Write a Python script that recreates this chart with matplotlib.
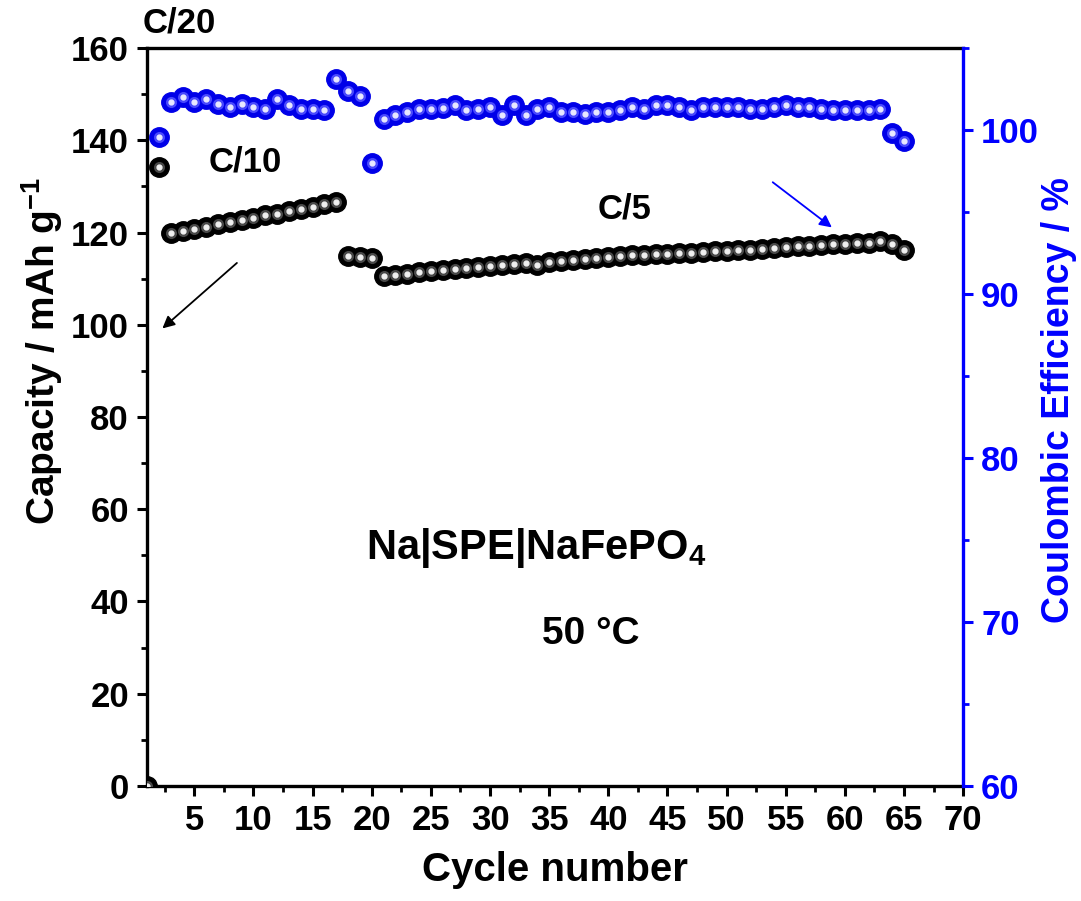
import numpy as np
import matplotlib
matplotlib.use("Agg")
import matplotlib.pyplot as plt
from matplotlib.ticker import MultipleLocator, FixedLocator

plt.rcParams['font.family'] = ['Liberation Sans', 'DejaVu Sans']
plt.rcParams['font.weight'] = 'bold'
plt.rcParams['mathtext.fontset'] = 'custom'
plt.rcParams['mathtext.rm'] = 'Liberation Sans:bold'
plt.rcParams['mathtext.default'] = 'rm'

# Cycle data: specific capacity (mAh/g) and coulombic efficiency (%)
cycles = list(range(1, 66))
capacity = [
    0.0, 134.2,
    # C/10
    120.0, 120.4, 120.8, 121.3, 121.8, 122.3, 122.8, 123.2, 123.7, 124.1,
    124.6, 125.1, 125.6, 126.1, 126.6,
    # C/20 again
    114.8, 114.6, 114.5,
    # C/5
    110.5, 110.8, 111.1, 111.4, 111.6, 111.9, 112.1, 112.3, 112.5, 112.7,
    112.9, 113.1, 113.3, 113.0, 113.6, 113.8, 114.0, 114.2, 114.4, 114.6,
    114.8, 115.1, 115.2, 115.3, 115.4, 115.5, 115.6, 115.7, 115.9, 116.0,
    116.2, 116.3, 116.5, 116.7, 116.8, 117.0, 117.1, 117.3, 117.4, 117.5,
    117.7, 117.8, 118.2, 117.5, 116.3,
]
efficiency = [
    np.nan, 99.6,
    101.7, 102.0, 101.7, 101.9, 101.6, 101.4, 101.6, 101.4, 101.3, 101.9,
    101.5, 101.3, 101.3, 101.2, 103.1,
    102.4, 102.1, 98.0,
    100.7, 100.9, 101.1, 101.3, 101.3, 101.35, 101.5, 101.2, 101.3, 101.4,
    100.9, 101.5, 100.9, 101.3, 101.4, 101.1, 101.1, 101.0, 101.1, 101.1,
    101.2, 101.4, 101.3, 101.5, 101.5, 101.4, 101.2, 101.4, 101.4, 101.4,
    101.4, 101.3, 101.3, 101.4, 101.5, 101.4, 101.4, 101.3, 101.2, 101.2,
    101.2, 101.2, 101.3, 99.8, 99.3,
]

blue = '#0000ff'

fig = plt.figure(figsize=(10.81, 9.01), dpi=100)
ax = fig.add_axes([0.136, 0.1277, 0.755, 0.819])
ax2 = ax.twinx()


def spheres(axis, x, y, base, mid, light):
    # shaded ball markers: dark body, lighter core, small highlight
    axis.plot(x, y, 'o', ms=14, color=base, mec=base, zorder=3)
    axis.plot(x, y, 'o', ms=7, color=mid, mec=mid, alpha=0.85, zorder=4)
    axis.plot(x, y, 'o', ms=3.5, color=light, mec=light, zorder=5)


spheres(ax, cycles, capacity, 'black', '#505050', '#f0f0f0')
spheres(ax2, cycles, efficiency, '#0000e8', '#5050ff', '#e8e8ff')

# axes limits and ticks
ax.set_xlim(1, 70)
ax.set_ylim(0, 160)
ax2.set_ylim(60, 105)
ax.xaxis.set_major_locator(FixedLocator(np.arange(5, 71, 5)))
ax.xaxis.set_minor_locator(FixedLocator(np.arange(2.5, 70, 5)))
ax.yaxis.set_major_locator(MultipleLocator(20))
ax.yaxis.set_minor_locator(MultipleLocator(10))
ax2.yaxis.set_major_locator(MultipleLocator(10))
ax2.yaxis.set_minor_locator(MultipleLocator(5))

for sp in ax.spines.values():
    sp.set_linewidth(2.4)
ax.spines['right'].set_visible(False)
for name in ['left', 'top', 'bottom']:
    ax2.spines[name].set_visible(False)
ax2.spines['right'].set_linewidth(2.4)
ax2.spines['right'].set_color(blue)

ax.tick_params(axis='both', which='major', direction='out', length=7, width=2.2,
               labelsize=25, pad=6)
ax.tick_params(axis='both', which='minor', direction='out', length=4, width=2)
ax.tick_params(top=False, right=False, which='both')
ax2.tick_params(axis='y', which='major', direction='out', length=7, width=2.2,
                labelsize=25, colors=blue, pad=6)
ax2.tick_params(axis='y', which='minor', direction='out', length=4, width=2,
                colors=blue)
for lab in ax.get_xticklabels() + ax.get_yticklabels() + ax2.get_yticklabels():
    lab.set_fontweight('bold')

ax.set_xlabel('Cycle number', fontsize=29, fontweight='bold', labelpad=10)
ax.set_ylabel('Capacity / mAh g$^{-1}$', fontsize=28, fontweight='bold', va='center')
ax.yaxis.set_label_coords(-0.128, 0.59)
ax2.set_ylabel('Coulombic Efficiency / %', fontsize=27, fontweight='bold',
               color=blue, va='center')
ax2.yaxis.set_label_coords(1.117, 0.523)

# rate labels and annotations
ax.text(0.6, 165.5, 'C/20', fontsize=25, fontweight='bold', ha='left',
        va='center', clip_on=False)
ax.text(9.3, 135.2, 'C/10', fontsize=25, fontweight='bold', ha='center', va='center')
ax.text(41.4, 125.1, 'C/5', fontsize=25, fontweight='bold', ha='center', va='center')
ax.text(33.9, 51.5, 'Na|SPE|NaFePO$_4$', fontsize=30, fontweight='bold',
        ha='center', va='center')
ax.text(38.5, 33.0, '50 °C', fontsize=28, fontweight='bold', ha='center', va='center')

ax.annotate('', xy=(2.3, 99.2), xytext=(8.6, 113.4),
            arrowprops=dict(arrowstyle='-|>', color='black', lw=1.3,
                            mutation_scale=18, shrinkA=0, shrinkB=0))
ax.annotate('', xy=(58.9, 121.1), xytext=(53.9, 130.9),
            arrowprops=dict(arrowstyle='-|>', color=blue, lw=1.3,
                            mutation_scale=18, shrinkA=0, shrinkB=0))

fig.savefig('out.png', dpi=100)
